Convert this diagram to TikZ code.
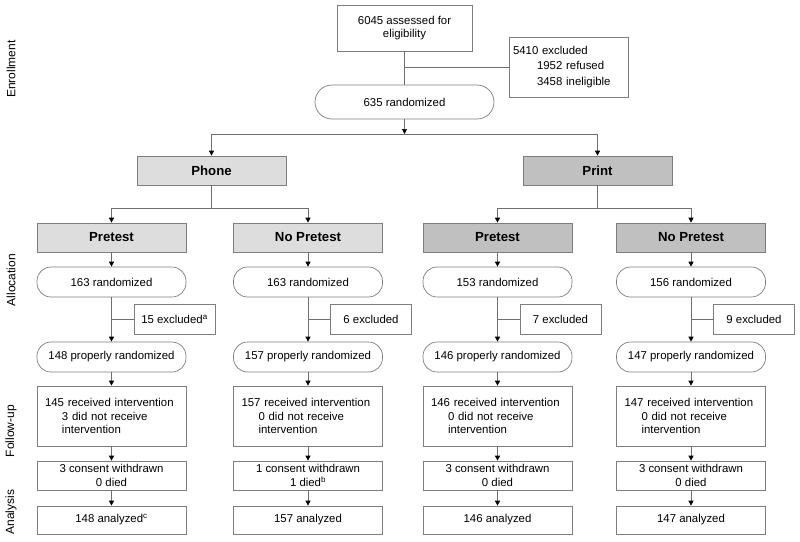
\documentclass[tikz,border=0pt]{standalone}
\usepackage{fontspec}
\setmainfont{Liberation Sans}
\usetikzlibrary{arrows.meta}
\definecolor{bordergray}{RGB}{125,125,125}
\definecolor{linegray}{RGB}{110,110,110}
\definecolor{phonegray}{RGB}{221,221,221}
\definecolor{printgray}{RGB}{192,192,192}
\begin{document}
\begin{tikzpicture}[x=1pt,y=-1pt,
  every node/.style={font=\fontsize{11.4}{13.8}\selectfont, text=black},
  base/.style={draw=bordergray, line width=0.7pt, inner sep=0pt, align=center},
  hdrbox/.style={base, minimum width=149pt, minimum height=29pt, font=\bfseries\fontsize{13.2}{15}\selectfont},
  pill/.style={base, rounded corners=14pt, minimum width=149pt, minimum height=30pt},
  plainbox/.style={base, minimum width=149pt, minimum height=#1},
  exclbox/.style={base, minimum width=81pt, minimum height=30pt},
  sidelabel/.style={rotate=90, font=\fontsize{12}{14}\selectfont},
  conn/.style={draw=linegray, line width=0.7pt},
  arr/.style={conn, -{Triangle[width=5pt,length=5pt,color=black]}}
]
\useasboundingbox (0,0) rectangle (800,541);

% side labels
\node[sidelabel] (labE) at (11,69) {Enrollment};
\node[sidelabel] (labA) at (11,280) {Allocation};
\node[sidelabel] (labF) at (11,431) {Follow-up};
\node[sidelabel] (labN) at (11,512) {Analysis};

% enrollment
\node[plainbox=46pt, minimum width=135pt] (assess) at (404.5,28) {6045 assessed for\\eligibility};
\node[base, minimum width=119pt, minimum height=60pt, text width=111pt, align=left,
      font=\fontsize{11.4}{15.5}\selectfont] (excl0) at (568.5,67)
      {5410 excluded\\\hspace*{24pt}1952 refused\\\hspace*{24pt}3458 ineligible};
\node[pill, minimum width=179pt, minimum height=34pt, rounded corners=17pt] (rand0) at (404.5,102) {635 randomized};
\coordinate (split0) at (404.5,134);

\node[hdrbox, fill=phonegray] (phone) at (211.5,170.5) {Phone};
\node[hdrbox, fill=printgray] (print) at (597.5,170.5) {Print};
\coordinate (splitP) at (211.5,208);
\coordinate (splitR) at (597.5,208);

\draw[conn] (assess) -- (rand0);
\draw[conn] (assess.south |- excl0.west) -- (excl0.west);
\draw[arr] (rand0) -- (split0);
\draw[arr] (split0) -| (phone);
\draw[arr] (split0) -| (print);
\draw[conn] (phone) -- (splitP);
\draw[conn] (print) -- (splitR);

\foreach \i/\c/\hd/\fc/\nr/\nx/\np/\rv/\dn/\cw/\died/\an in {
  1/111.5/Pretest/phonegray/163/15 excluded\textsuperscript{a}/148/145/3/3/0 died/148 analyzed\textsuperscript{c},
  2/308/No Pretest/phonegray/163/6 excluded/157/157/0/1/1 died\textsuperscript{b}/157 analyzed,
  3/497.5/Pretest/printgray/153/7 excluded/146/146/0/3/0 died/146 analyzed,
  4/691/No Pretest/printgray/156/9 excluded/147/147/0/3/0 died/147 analyzed}{
  \node[hdrbox, fill=\fc] (hd\i) at (\c,237.5) {\hd};
  \node[pill] (rn\i) at (\c,282) {\nr{} randomized};
  \node[exclbox] (ex\i) at (\c+63,319) {\nx};
  \node[pill] (pr\i) at (\c,357) {\np{} properly randomized};
  \node[base, minimum width=149pt, minimum height=60pt, text width=133pt, align=left] (rc\i) at (\c,416)
    {\rv{} received intervention\\\hspace*{17pt}\dn{} did not receive\\\hspace*{17pt}intervention};
  \node[plainbox=29pt, font=\fontsize{11.4}{14.5}\selectfont] (cs\i) at (\c,475.5) {\cw{} consent withdrawn\\\died};
  \node[plainbox=28pt] (an\i) at (\c,520) {\an};
  \draw[arr] (hd\i) -- (rn\i);
  \draw[arr] (rn\i) -- (pr\i);
  \draw[conn] (rn\i.south |- ex\i.west) -- (ex\i.west);
  \draw[arr] (pr\i) -- (rc\i);
  \draw[arr] (rc\i) -- (cs\i);
  \draw[arr] (cs\i) -- (an\i);
}
\draw[arr] (splitP) -| (hd1);
\draw[arr] (splitP) -| (hd2);
\draw[arr] (splitR) -| (hd3);
\draw[arr] (splitR) -| (hd4);
\end{tikzpicture}
\end{document}
